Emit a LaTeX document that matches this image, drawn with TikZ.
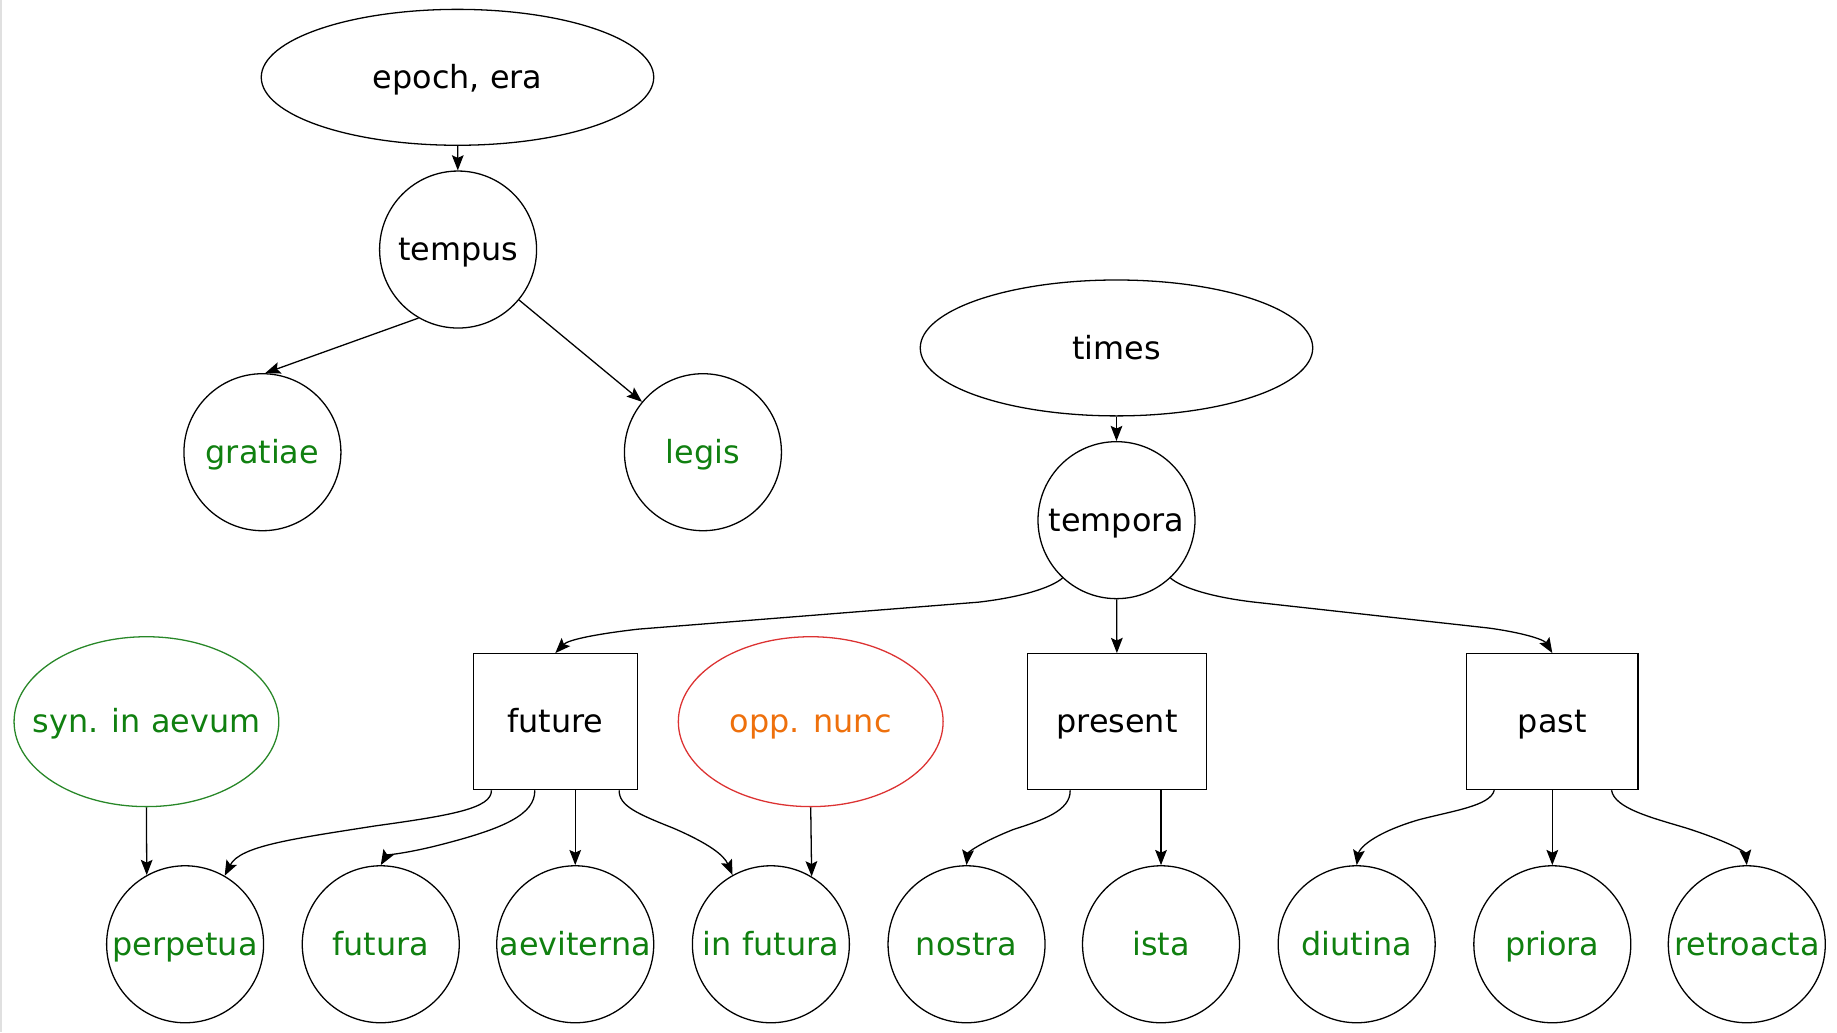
\documentclass[tikz,border=0pt]{standalone}
\usepackage{fontspec}
\setmainfont{DejaVu Sans}
\usetikzlibrary{shapes.geometric,arrows.meta}
\definecolor{lgreen}{RGB}{16,128,16}
\definecolor{eborder}{RGB}{40,135,40}
\definecolor{lorange}{RGB}{238,112,12}
\definecolor{lred}{RGB}{220,50,50}
\begin{document}
\begin{tikzpicture}[x=0.5pt,y=-0.5pt,
  base/.style={draw, line width=0.55pt, inner sep=0pt, font=\fontsize{13.6}{16}\selectfont,
    text height=11.5pt, text depth=2pt},
  bigell/.style={base, ellipse, minimum width=167.5pt, minimum height=58pt},
  sideell/.style={base, ellipse, inner xsep=-12pt, minimum width=113pt, minimum height=72.5pt},
  circ/.style={base, circle, minimum size=67pt},
  leaf/.style={circ, text=lgreen},
  tbox/.style={base, rectangle, minimum height=58pt},
  edge/.style={line width=0.55pt, -{Stealth[length=6.5pt,width=5pt,inset=1.2pt]}}
]
\useasboundingbox (0,0) rectangle (1568,881);
\fill[black!12] (0,0) rectangle (1.8,881);

% upper tree
\node[bigell] (epoch) at (390.5,66) {epoch, era};
\node[circ] (tempus) at (391,213) {tempus};
\node[leaf] (gratiae) at (224,386) {gratiae};
\node[leaf] (legis) at (600,386) {legis};

\node[bigell] (times) at (953,297) {times};
\node[circ] (tempora) at (953,444) {tempora};

% middle row
\node[sideell, draw=eborder, text=lgreen] (syn) at (125,616) {syn. in aevum};
\node[tbox, minimum width=70pt] (future) at (474,616) {future};
\node[sideell, draw=lred, text=lorange] (opp) at (692,616) {opp. nunc};
\node[tbox, minimum width=76.5pt] (present) at (953.5,616) {present};
\node[tbox, minimum width=73pt] (past) at (1325,616) {past};

% bottom row
\node[leaf] (perpetua) at (158,806) {perpetua};
\node[leaf] (futura) at (325,806) {futura};
\node[leaf] (aeviterna) at (491,806) {aeviterna};
\node[leaf] (infutura) at (658,806) {in futura};
\node[leaf] (nostra) at (825,806) {nostra};
\node[leaf] (ista) at (991,806) {ista};
\node[leaf] (diutina) at (1158,806) {diutina};
\node[leaf] (priora) at (1325,806) {priora};
\node[leaf] (retroacta) at (1491,806) {retroacta};

% edges
\draw[edge] (epoch) -- (tempus);
\draw[edge] (tempus.240) -- (gratiae.88);
\draw[edge] (tempus) -- (legis);
\draw[edge] (times) -- (tempora);

\draw[edge] (tempora.227) .. controls (897,502) and (870,510) .. (835,514)
  -- (545,537) .. controls (510,541) and (485,546) .. (future.north);
\draw[edge] (tempora) -- (present);
\draw[edge] (tempora.313) .. controls (1009,502) and (1036,510) .. (1071,514)
  -- (1270,536) .. controls (1300,540) and (1318,546) .. (past.north);

\draw[edge] (syn.south) -- (perpetua.119);
\draw[edge] (opp.south) -- (infutura.59.5);

\draw[edge] ([xshift=8pt]future.south west) .. controls (420,690) and (385,696) .. (320,705)
  .. controls (250,716) and (205,722) .. (perpetua.60);
\draw[edge] ([xshift=26.5pt]future.south west) .. controls (457,695) and (430,707) .. (380,720)
  .. controls (350,728) and (330,730) .. (futura.north);
\draw[edge] (aeviterna.north |- future.south) -- (aeviterna.north);
\draw[edge] ([xshift=-8pt]future.south east) .. controls (528,688) and (545,695) .. (575,707)
  .. controls (605,720) and (618,730) .. (infutura.119);

\draw[edge] ([xshift=18.5pt]present.south west) .. controls (914,692) and (890,700) .. (865,708)
  .. controls (835,720) and (826,728) .. (nostra.north);
\draw[edge] (ista.north |- present.south) -- (ista.north);

\draw[edge] ([xshift=12pt]past.south west) .. controls (1272,688) and (1240,692) .. (1210,700)
  .. controls (1170,712) and (1160,725) .. (diutina.north);
\draw[edge] (past) -- (priora);
\draw[edge] ([xshift=-11.5pt]past.south east) .. controls (1378,690) and (1410,698) .. (1440,707)
  .. controls (1480,720) and (1490,728) .. (retroacta.north);
\end{tikzpicture}
\end{document}
